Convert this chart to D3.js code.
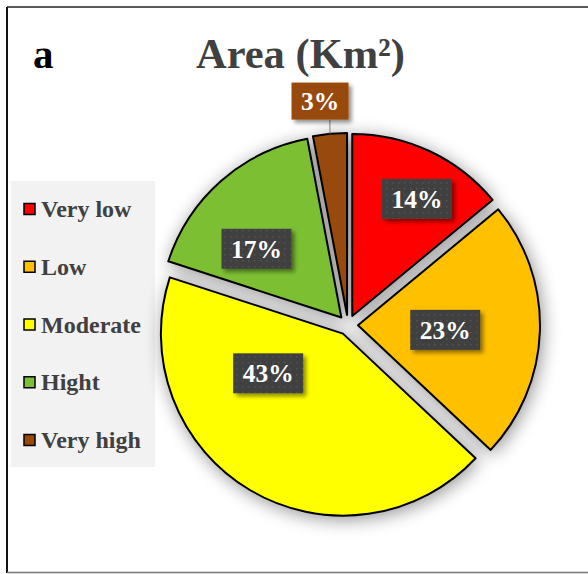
<!DOCTYPE html>
<html>
<head>
<meta charset="utf-8">
<script src="https://cdn.jsdelivr.net/npm/d3@7"></script>
<style>
  body { margin: 0; background: #fff; }
  svg { display: block; }
  text { font-family: "Liberation Serif", "Times New Roman", serif; font-weight: bold; }
</style>
</head>
<body>
<div id="chart"></div>
<script>
// data
var categories = ["Very low", "Low", "Moderate", "Hight", "Very high"];
var shares = [14, 23, 43, 17, 3];
var colors = ["#ff0000", "#ffc000", "#ffff00", "#7bbf33", "#984807"];

var width = 588, height = 574;
var cx = 348, cy = 325;   // pie centre
var radius = 182;
var explode = 10;          // distance each slice is pulled out

// label placement, polar from each slice tip: [angle in deg, fraction of radius]
var labelPolar = [[28.9, 0.735], [93, 0.48], [242, 0.465], [309, 0.6], [352.8, 1.185]];

var svg = d3.select("#chart").append("svg")
    .attr("width", width)
    .attr("height", height);

var defs = svg.append("defs");

var shadow = defs.append("filter")
    .attr("id", "pieShadow")
    .attr("x", "-20%").attr("y", "-20%")
    .attr("width", "140%").attr("height", "140%");
shadow.append("feGaussianBlur").attr("in", "SourceAlpha").attr("stdDeviation", 9).attr("result", "blur");
shadow.append("feOffset").attr("dx", 2).attr("dy", 3).attr("result", "off");
shadow.append("feComponentTransfer").attr("in", "off").attr("result", "soft")
    .append("feFuncA").attr("type", "linear").attr("slope", 0.42);
var m1 = shadow.append("feMerge");
m1.append("feMergeNode").attr("in", "soft");
m1.append("feMergeNode").attr("in", "SourceGraphic");

var boxShadow = defs.append("filter")
    .attr("id", "boxShadow")
    .attr("x", "-30%").attr("y", "-30%")
    .attr("width", "160%").attr("height", "160%");
boxShadow.append("feGaussianBlur").attr("in", "SourceAlpha").attr("stdDeviation", 2).attr("result", "blur");
boxShadow.append("feOffset").attr("dx", 3).attr("dy", 3).attr("result", "off");
boxShadow.append("feComponentTransfer").attr("in", "off").attr("result", "soft")
    .append("feFuncA").attr("type", "linear").attr("slope", 0.45);
var m2 = boxShadow.append("feMerge");
m2.append("feMergeNode").attr("in", "soft");
m2.append("feMergeNode").attr("in", "SourceGraphic");

// dotted texture of the dark label boxes
var pat = defs.append("pattern")
    .attr("id", "dots")
    .attr("width", 6).attr("height", 6)
    .attr("patternUnits", "userSpaceOnUse");
pat.append("rect").attr("width", 6).attr("height", 6).attr("fill", "#404040");
pat.append("rect").attr("x", 2).attr("y", 2).attr("width", 1.5).attr("height", 1.5).attr("fill", "#525252");

// frame
svg.append("line").attr("x1", 7).attr("y1", 7).attr("x2", width).attr("y2", 7)
    .attr("stroke", "#222").attr("stroke-width", 1.5);
svg.append("line").attr("x1", 7).attr("y1", 7).attr("x2", 7).attr("y2", 573)
    .attr("stroke", "#111").attr("stroke-width", 2);
svg.append("line").attr("x1", 7).attr("y1", 572.5).attr("x2", width).attr("y2", 572.5)
    .attr("stroke", "#777").attr("stroke-width", 1.5);

// title
svg.append("text")
    .attr("x", 33).attr("y", 68)
    .attr("font-size", 41)
    .attr("fill", "#000")
    .text("a");
svg.append("text")
    .attr("x", 300.5).attr("y", 68)
    .attr("text-anchor", "middle")
    .attr("font-size", 42.5)
    .attr("fill", "#404040")
    .text("Area (Km²)");

// legend
var legend = svg.append("g");
legend.append("rect")
    .attr("x", 11).attr("y", 181)
    .attr("width", 144).attr("height", 286)
    .attr("fill", "#f2f2f2");

var legendY = d3.scalePoint().domain(categories).range([217, 448]);

var item = legend.selectAll(".item")
    .data(categories)
  .enter().append("g")
    .attr("class", "item")
    .attr("transform", function(d) { return "translate(0," + legendY(d) + ")"; });

item.append("rect")
    .attr("x", 24).attr("y", -13.5)
    .attr("width", 11).attr("height", 11)
    .attr("fill", function(d, i) { return colors[i]; })
    .attr("stroke", "#000")
    .attr("stroke-width", 1.5);

item.append("text")
    .attr("x", 41).attr("y", 0)
    .attr("font-size", 24)
    .attr("fill", "#404040")
    .text(function(d) { return d; });

// pie
var pie = d3.pie().sort(null).value(function(d) { return d; });
var arcs = pie(shares);
var arc = d3.arc().innerRadius(0).outerRadius(radius);

function polar(angleDeg, dist) {
    var a = angleDeg * Math.PI / 180;
    return [Math.sin(a) * dist, -Math.cos(a) * dist];
}

function tip(d) {
    var mid = (d.startAngle + d.endAngle) / 2 * 180 / Math.PI;
    var p = polar(mid, explode);
    return [cx + p[0], cy + p[1]];
}

var pieG = svg.append("g").attr("filter", "url(#pieShadow)");

pieG.selectAll("path")
    .data(arcs)
  .enter().append("path")
    .attr("transform", function(d) { var t = tip(d); return "translate(" + t[0] + "," + t[1] + ")"; })
    .attr("d", arc)
    .attr("fill", function(d, i) { return colors[i]; })
    .attr("stroke", "#000")
    .attr("stroke-width", 2)
    .attr("stroke-linejoin", "round");

// data labels
var labels = svg.append("g");

arcs.forEach(function(d, i) {
    var t = tip(d);
    var p = polar(labelPolar[i][0], labelPolar[i][1] * radius);
    var lx = t[0] + p[0], ly = t[1] + p[1];
    var outside = labelPolar[i][1] > 1;
    var bw = outside ? 57 : 70, bh = outside ? 37 : 40;

    if (outside) {
        // leader line from the arc midpoint up to the box
        var mid = (d.startAngle + d.endAngle) / 2 * 180 / Math.PI;
        var e = polar(mid, radius);
        labels.append("line")
            .attr("x1", t[0] + e[0]).attr("y1", t[1] + e[1])
            .attr("x2", t[0] + e[0]).attr("y2", ly + bh / 2)
            .attr("stroke", "#7f7f7f").attr("stroke-width", 1);
    }

    labels.append("rect")
        .attr("x", lx - bw / 2).attr("y", ly - bh / 2)
        .attr("width", bw).attr("height", bh)
        .attr("fill", outside ? colors[i] : "url(#dots)")
        .attr("filter", "url(#boxShadow)");

    labels.append("text")
        .attr("x", lx).attr("y", ly + 9)
        .attr("text-anchor", "middle")
        .attr("font-size", 25.5)
        .attr("fill", "#fff")
        .text(d.data + "%");
});
</script>
</body>
</html>
